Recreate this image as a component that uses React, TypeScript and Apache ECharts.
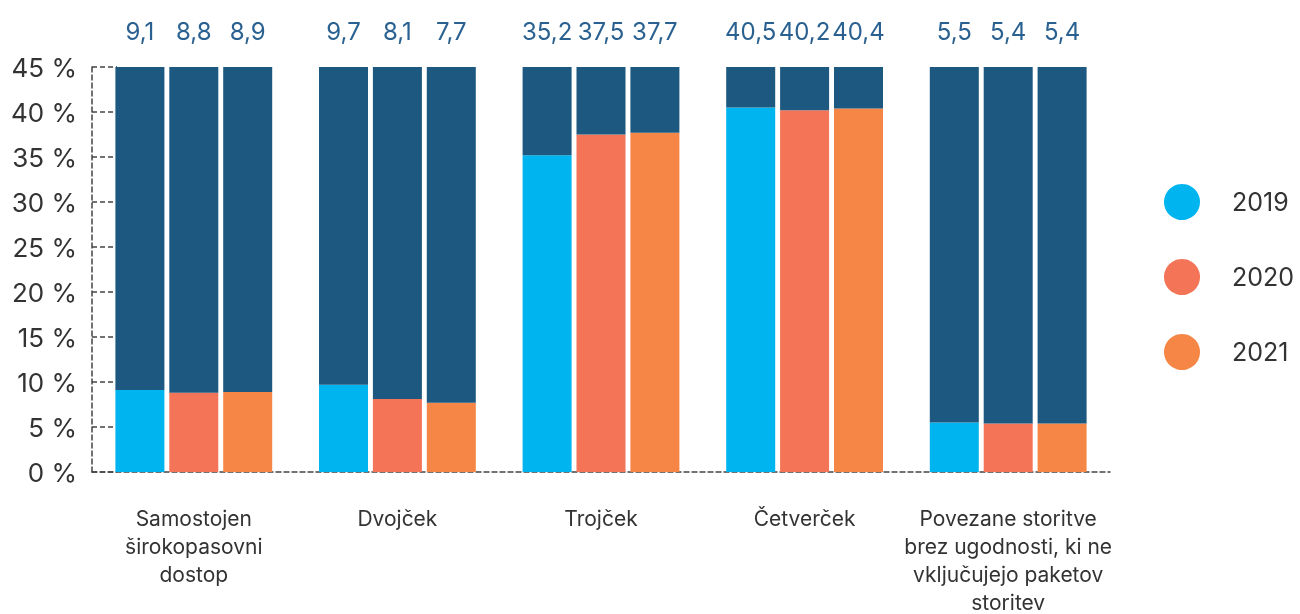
import React, { useEffect, useRef } from "react";
import * as echarts from "echarts";

const categories = [
  "Samostojen\nširokopasovni\ndostop",
  "Dvojček",
  "Trojček",
  "Četverček",
  "Povezane storitve\nbrez ugodnosti, ki ne\nvključujejo paketov\nstoritev",
];
const years = ["2019", "2020", "2021"];
const values2019 = [9.1, 9.7, 35.2, 40.5, 5.5];
const values2020 = [8.8, 8.1, 37.5, 40.2, 5.4];
const values2021 = [8.9, 7.7, 37.7, 40.4, 5.4];
const yTicks = { min: 0, max: 45, interval: 5 };

const colors = ["#00b5ef", "#f37457", "#f58646"];
const dark = "#1c5880";
const FONT = "Inter, 'Open Sans', sans-serif";

export default function App() {
  const ref = useRef<HTMLDivElement>(null);
  useEffect(() => {
    if (!ref.current) return;
    const chart = echarts.init(ref.current, undefined, { renderer: "svg" });
    const all = [values2019, values2020, values2021];
    const series: any[] = [];
    all.forEach((vals, i) => {
      series.push({
        name: years[i],
        type: "bar",
        stack: "s" + i,
        barWidth: 49,
        barGap: "10%",
        data: vals,
        itemStyle: { color: colors[i] },
      });
    });
    all.forEach((vals, i) => {
      series.push({
        name: "rest" + years[i],
        type: "bar",
        stack: "s" + i,
        barWidth: 49,
        barGap: "10%",
        data: vals.map((v) => +(yTicks.max - v).toFixed(2)),
        itemStyle: { color: dark },
        label: {
          show: true,
          position: "top",
          distance: 24,
          fontSize: 24,
          fontFamily: FONT,
          color: "#2a6190",
          formatter: (p: any) => String(vals[p.dataIndex]).replace(".", ","),
        },
      });
    });
    chart.setOption({
      animation: false,
      textStyle: { fontFamily: FONT },
      grid: { left: 92, right: 190, top: 67, bottom: 142, outerBoundsMode: "none", containLabel: false },
      legend: {
        data: years,
        orient: "vertical",
        left: 1164,
        top: 184,
        padding: 0,
        icon: "circle",
        itemWidth: 36,
        itemHeight: 36,
        itemGap: 39,
        textStyle: { fontSize: 25, color: "#333", padding: [0, 0, 0, 27], fontFamily: FONT },
      },
      xAxis: {
        type: "category",
        data: categories,
        axisLine: { lineStyle: { color: "#444", type: [5, 3], width: 1.5 } },
        axisTick: { inside: true, length: 10, lineStyle: { color: "#444", type: [5, 3], width: 1.5 } },
        axisLabel: {
          interval: 0,
          margin: 32,
          fontSize: 21,
          lineHeight: 28,
          color: "#333",
          fontFamily: FONT,
        },
      },
      yAxis: {
        type: "value",
        min: yTicks.min,
        max: yTicks.max,
        interval: yTicks.interval,
        axisLine: { show: true, lineStyle: { color: "#444", type: [5, 3], width: 1.5 } },
        axisTick: { show: true, inside: true, length: 25, lineStyle: { color: "#444", type: [5, 3], width: 1.5 } },
        splitLine: { show: false },
        axisLabel: {
          formatter: "{value} %",
          fontSize: 26,
          color: "#333",
          margin: 15,
          fontFamily: FONT,
        },
      },
      series,
    });
    return () => chart.dispose();
  }, []);
  return (
    <div
      ref={ref}
      style={{ position: "fixed", left: 0, top: 0, width: 1300, height: 614 }}
    />
  );
}
